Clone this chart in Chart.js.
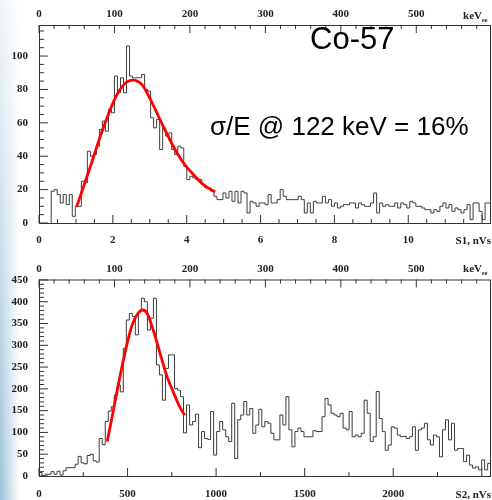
<!DOCTYPE html>
<html>
<head>
<meta charset="utf-8">
<script src="https://cdn.jsdelivr.net/npm/chart.js@4.4.1/dist/chart.umd.min.js"></script>
<style>
  body {
    margin: 0;
    width: 492px;
    height: 500px;
    overflow: hidden;
    background: linear-gradient(to right, rgba(255,255,255,0) 0px, #fff 20px),
                linear-gradient(to bottom, #f1f6f9, #9ec2d8);
  }
  canvas { display: block; }
</style>
</head>
<body>
<canvas id="s1" width="492" height="250"></canvas>
<canvas id="s2" width="492" height="250"></canvas>
<script>
// S1 spectrum, bins of 0.0816 nVs starting at 0.33
const s1Start = 0.33;
const s1BinWidth = 0.0816;
const s1Counts = [
  19, 20, 17, 12, 17, 11, 17, 4, 10, 10,
  25, 24, 43, 40, 41, 46, 56, 61, 55, 68,
  66, 88, 78, 87, 78, 106, 88, 87, 87, 87,
  89, 80, 79, 63, 57, 62, 44, 57, 52, 54,
  44, 41, 46, 45, 34, 26, 28, 27, 26, 26,
  23, 21, 21, 19, 16, 14, 14, 18, 15, 19,
  13, 19, 12, 19, 18, 6, 13, 12, 10, 12,
  12, 11, 17, 12, 12, 14, 20, 16, 14, 14,
  14, 14, 16, 14, 6, 12, 6, 13, 12, 12,
  16, 12, 14, 10, 12, 9, 10, 11, 11, 12,
  12, 9, 12, 11, 10, 10, 12, 18, 6, 12,
  10, 11, 10, 10, 12, 9, 12, 11, 9, 13,
  12, 10, 10, 9, 8, 8, 6, 8, 7, 10,
  12, 9, 11, 7, 9, 8, 6, 8, 11, 2,
  12, 12, 7, 2, 12, 12
];
// red fit curve
const s1FitX = [1.02, 1.36, 1.72, 2.08, 2.35, 2.55, 2.80, 3.07, 3.34, 3.61, 3.88, 4.16, 4.45, 4.77];
const s1FitY = [9.8, 31.7, 55.7, 75.6, 84, 85.6, 82.6, 71.6, 59, 47, 37, 29.5, 23, 18.6];
const s1Ticks = [0, 2, 4, 6, 8, 10];
const s1CountTicks = [0, 20, 40, 60, 80, 100];

// S2 spectrum, bins of 17 nVs starting at 0
const s2Start = 0;
const s2BinWidth = 17;
const s2Counts = [
  8, 1, 4, 4, 10, 4, 11, 2, 12, 19,
  19, 19, 27, 45, 30, 28, 47, 50, 35, 32,
  86, 72, 125, 149, 159, 186, 209, 193, 293, 358,
  373, 366, 324, 377, 408, 400, 335, 362, 408, 255,
  232, 174, 247, 278, 278, 201, 197, 182, 99, 163,
  117, 125, 142, 65, 102, 86, 84, 148, 48, 102,
  125, 106, 90, 79, 167, 40, 129, 140, 171, 140,
  155, 98, 117, 153, 113, 125, 121, 98, 83, 83,
  140, 117, 182, 106, 67, 102, 110, 102, 90, 90,
  90, 104, 102, 102, 136, 178, 163, 144, 140, 136,
  144, 110, 106, 148, 90, 94, 90, 98, 174, 144,
  79, 90, 194, 132, 102, 59, 71, 113, 110, 94,
  90, 91, 86, 90, 113, 59, 106, 110, 121, 83,
  71, 94, 90, 44, 106, 129, 83, 121, 59, 63,
  63, 33, 48, 25, 18, 21, 14, 37, 14, 29
];
const s2FitX = [385, 413, 451, 489, 526, 564, 586, 611, 648, 686, 723, 761, 799, 823];
const s2FitY = [79, 136, 216, 289, 347, 376, 381, 373, 331, 278, 228, 190, 155, 140];
const s2Ticks = [0, 500, 1000, 1500, 2000];
const s2CountTicks = [0, 50, 100, 150, 200, 250, 300, 350, 400, 450];

// keV scale on top of both panels
const keVMax = 599;
const keVTicks = [0, 100, 200, 300, 400, 500];

function histPoints(lo, w, counts) {
  let pts = [{x: lo, y: 0}];
  counts.forEach((c, i) => pts.push({x: lo + i * w, y: c}));
  pts.push({x: lo + counts.length * w, y: counts[counts.length - 1]});
  return pts;
}

const tickFont = {family: 'Liberation Serif', size: 11, weight: 'bold'};

const rootFrame = {
  id: 'rootFrame',
  afterDraw(chart, args, o) {
    const {ctx, chartArea: a, scales} = chart;
    ctx.save();
    ctx.strokeStyle = '#333';
    ctx.lineWidth = 1;
    ctx.strokeRect(a.left + 0.5, a.top + 0.5, a.right - a.left - 1, a.bottom - a.top);
    ctx.beginPath();
    const marks = (scale, minor, major, fn) => {
      for (let i = 0; minor * i <= scale.max + 1e-9; i++) {
        const v = minor * i;
        const p = scale.getPixelForValue(v);
        const r = v / major;
        fn(p, Math.abs(r - Math.round(r)) < 1e-6 ? 8 : 4);
      }
    };
    marks(scales.x, o.xMinor, o.xMajor, (p, l) => { ctx.moveTo(p, a.bottom); ctx.lineTo(p, a.bottom - l); });
    marks(scales.xTop, 20, 100, (p, l) => { ctx.moveTo(p, a.top); ctx.lineTo(p, a.top + l); });
    marks(scales.y, o.yMinor, o.yMajor, (p, l) => { ctx.moveTo(a.left, p); ctx.lineTo(a.left + l + 1, p); });
    ctx.stroke();

    ctx.fillStyle = '#222';
    ctx.font = 'bold 11px "Liberation Serif"';
    ctx.textBaseline = 'middle';
    ctx.textAlign = 'right';
    ctx.fillText(o.xTitle, a.right, a.bottom + o.xTitleOff);
    ctx.textBaseline = 'alphabetic';
    ctx.fillText('keV', a.right - 9, a.top - o.keVOff);
    ctx.font = 'bold 6px "Liberation Serif"';
    ctx.textAlign = 'left';
    ctx.fillText('ee', a.right - 9, a.top - o.keVOff + 3);

    ctx.fillStyle = '#000';
    (o.notes || []).forEach(n => {
      ctx.font = n.font;
      ctx.textAlign = 'left';
      ctx.fillText(n.text, n.x, n.y);
    });
    ctx.restore();
  }
};

const fixTicks = list => s => { s.ticks = list.map(v => ({value: v})); };

function panel(id, o) {
  return new Chart(document.getElementById(id), {
    type: 'line',
    data: {
      datasets: [
        {
          data: histPoints(o.lo, o.width, o.counts),
          stepped: true,
          borderColor: '#3c3c3c',
          borderWidth: 1,
          pointRadius: 0,
          fill: false,
          order: 1
        },
        {
          data: o.fitX.map((x, i) => ({x: x, y: o.fitY[i]})),
          borderColor: '#ff0000',
          borderWidth: 2.8,
          pointRadius: 0,
          cubicInterpolationMode: 'monotone',
          fill: false,
          order: 0
        }
      ]
    },
    options: {
      responsive: false,
      animation: false,
      devicePixelRatio: 1,
      layout: {padding: {right: 1}},
      plugins: {
        legend: {display: false},
        tooltip: {enabled: false},
        rootFrame: o.frame
      },
      scales: {
        x: {
          type: 'linear', position: 'bottom', min: 0, max: o.xMax,
          grid: {display: false, drawTicks: false}, border: {display: false},
          ticks: {padding: o.xPad, color: '#222', font: tickFont, maxRotation: 0, autoSkip: false,
                  callback: v => String(v)},
          afterBuildTicks: fixTicks(o.xTicks),
          afterFit: s => { s.height = o.bottomH; }
        },
        xTop: {
          type: 'linear', position: 'top', min: 0, max: keVMax,
          grid: {display: false, drawTicks: false}, border: {display: false},
          ticks: {padding: 4, color: '#222', font: tickFont, maxRotation: 0, autoSkip: false,
                  callback: v => String(v)},
          afterBuildTicks: fixTicks(keVTicks),
          afterFit: s => { s.height = o.topH; }
        },
        y: {
          type: 'linear', position: 'left', min: 0, max: o.yMax,
          grid: {display: false, drawTicks: false}, border: {display: false},
          ticks: {padding: 11, color: '#222', font: tickFont, autoSkip: false,
                  callback: v => String(v)},
          afterBuildTicks: fixTicks(o.yTicks),
          afterFit: s => { s.width = 39; }
        }
      }
    },
    plugins: [rootFrame]
  });
}

panel('s1', {
  lo: s1Start, width: s1BinWidth, counts: s1Counts, fitX: s1FitX, fitY: s1FitY,
  xMax: 12.24, xTicks: s1Ticks, xPad: 11, bottomH: 27, topH: 25,
  yMax: 118.6, yTicks: s1CountTicks,
  frame: {
    xMinor: 0.5, xMajor: 2, yMinor: 5, yMajor: 20,
    xTitle: 'S1, nVs', xTitleOff: 18, keVOff: 6,
    notes: [
      {text: 'Co-57', x: 310, y: 49, font: '31px "Liberation Sans"'},
      {text: 'σ/E @ 122 keV = 16%', x: 210, y: 135, font: '26px "Liberation Sans"'}
    ]
  }
});

panel('s2', {
  lo: s2Start, width: s2BinWidth, counts: s2Counts, fitX: s2FitX, fitY: s2FitY,
  xMax: 2552, xTicks: s2Ticks, xPad: 12, bottomH: 24, topH: 29.5,
  yMax: 451, yTicks: s2CountTicks,
  frame: {
    xMinor: 250, xMajor: 500, yMinor: 10, yMajor: 50,
    xTitle: 'S2, nVs', xTitleOff: 19, keVOff: 8
  }
});
</script>
</body>
</html>
